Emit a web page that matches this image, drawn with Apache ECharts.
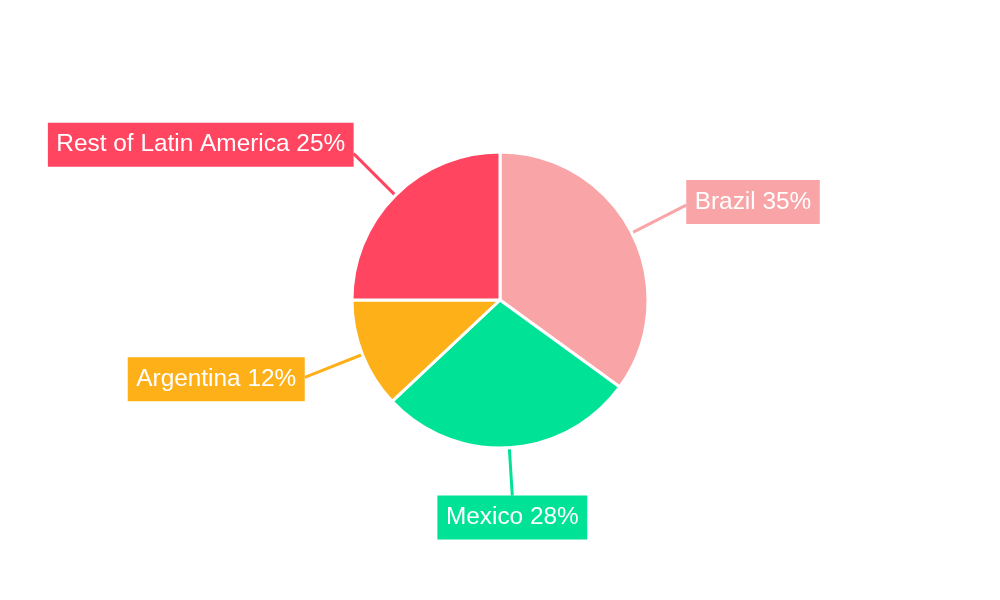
<!DOCTYPE html>
<html><head><meta charset="utf-8">
<script src="https://cdn.jsdelivr.net/npm/echarts@6/dist/echarts.min.js"></script>
<style>html,body{margin:0;padding:0;background:#fff}#c{width:1000px;height:600px}</style>
</head><body><div id="c"></div>
<script>
const categories = ['Brazil', 'Mexico', 'Argentina', 'Rest of Latin America'];
const shares = [35, 28, 12, 25];
const colors = ['#F9A4A7', '#00E396', '#FEB019', '#FF4560'];

// per-slice label styling (line length, vertical nudge, placement)
const labelStyle = {
  0: { len: 61, dy: -3 },
  1: { len: 48, below: true },
  2: { len: 62, dy: 2 },
  3: { len: 59, dy: -9 }
};

const chart = echarts.init(document.getElementById('c'));
chart.setOption({
  animation: false,
  series: [{
    type: 'pie',
    center: [500, 300],
    radius: [0, 148],
    startAngle: 90,
    clockwise: true,
    data: categories.map((n, i) => ({
      name: n, value: shares[i],
      itemStyle: { color: colors[i] },
      labelLine: { length: labelStyle[i].len }
    })),
    itemStyle: { borderColor: '#fff', borderWidth: 3 },
    label: {
      show: true,
      formatter: '{b} {c}%',
      color: '#fff',
      fontSize: 24.4,
      fontFamily: 'Liberation Sans, Arial, sans-serif',
      backgroundColor: 'inherit',
      padding: [10, 8.5],
      lineHeight: 24,
      distanceToLabelLine: 0
    },
    labelLine: { show: true, length: 56, length2: 0, lineStyle: { width: 3 } },
    labelLayout: function (params) {
      const s = labelStyle[params.dataIndex];
      if (s.below && params.labelLinePoints) {
        const p = params.labelLinePoints[params.labelLinePoints.length - 1];
        return { x: p[0], y: p[1], align: 'center', verticalAlign: 'top' };
      }
      return { dy: s.dy || 0 };
    },
    emphasis: { disabled: true }
  }]
});
</script></body></html>
